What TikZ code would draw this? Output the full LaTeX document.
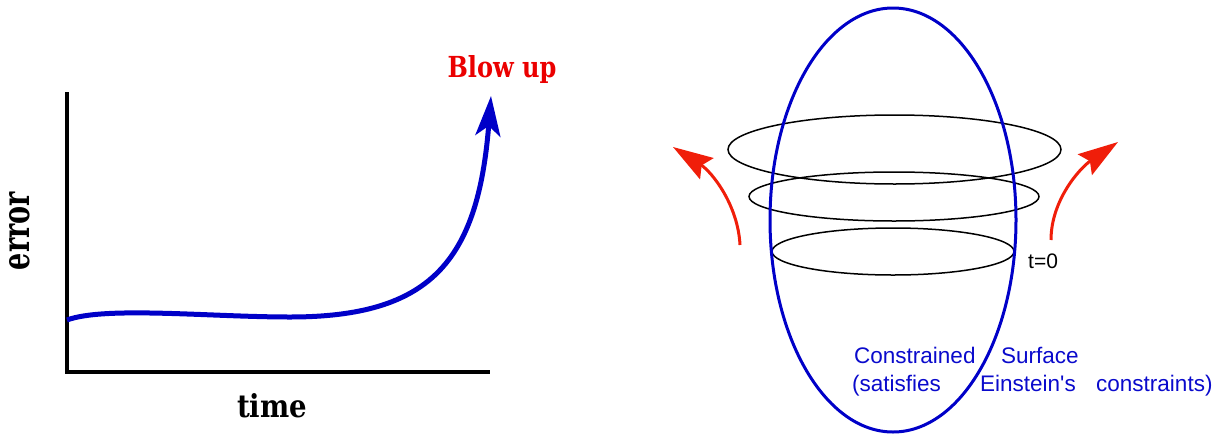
\documentclass[tikz,border=0pt]{standalone}
\usepackage{fontspec}
\usepackage{graphicx}
\setmainfont{DejaVu Serif}
\newfontfamily\labelsans{Liberation Sans}
\usetikzlibrary{arrows.meta}
\definecolor{curveblue}{RGB}{0,0,200}
\definecolor{textblue}{RGB}{10,10,204}
\definecolor{arrred}{RGB}{240,30,10}
\definecolor{blowred}{RGB}{235,0,0}
\begin{document}
\begin{tikzpicture}[x=1pt,y=-1pt,
  axisline/.style={line width=4pt},
  errcurve/.style={curveblue, line width=5pt, -{Stealth[length=40pt,width=25pt,inset=10pt]}},
  flowarrow/.style={arrred, line width=3pt, -{Stealth[length=40pt,width=25pt,inset=6pt]}},
  ring/.style={black, line width=1.5pt},
  surface/.style={curveblue, line width=3pt},
  serlabel/.style={anchor=base, inner sep=0pt, font=\bfseries},
  bluetext/.style={anchor=base west, inner sep=0pt, text=textblue, font=\labelsans\fontsize{22.5pt}{26pt}\selectfont}
]
\useasboundingbox (0,0) rectangle (1225,434);

% ---- left chart ----
\draw[axisline] (67,92) -- (67,372) -- (490,372);
\draw[errcurve] (67,320) .. controls (105,306) and (210,317) .. (290,317)
  .. controls (430,317) and (478,262) .. (491,96);
\node[serlabel, text=blowred] (blow) at (502,77) {\resizebox{109pt}{22pt}{Blow up}};
\node[serlabel] (time) at (272,417) {\resizebox{70pt}{24pt}{time}};
\node[serlabel, rotate=90] (err) at (30,231) {\resizebox{78pt}{20pt}{error}};

% ---- right picture ----
\draw[ring] (894.5,149.5) ellipse [x radius=166.5pt, y radius=34.5pt];
\draw[ring] (894,196.5) ellipse [x radius=145pt, y radius=24.5pt];
\draw[ring] (893,251.5) ellipse [x radius=121pt, y radius=23.5pt];
\draw[surface] (893,220) ellipse [x radius=123pt, y radius=212pt];

\draw[flowarrow] (740,245) .. controls (738,205) and (712,172) .. (673,147);
\draw[flowarrow] (1051,240) .. controls (1051,200) and (1080,168) .. (1118,142);

\node[anchor=base west, inner sep=0pt, font=\labelsans\fontsize{21pt}{24pt}\selectfont] (t0) at (1028,268) {t=0};

\node[bluetext] (w1) at (854,363) {Constrained};
\node[bluetext] (w2) at (1001,363) {Surface};
\node[bluetext] (w3) at (852,391) {(satisfies};
\node[bluetext] (w4) at (980,391) {Einstein's};
\node[bluetext] (w5) at (1096,391) {constraints)};
\end{tikzpicture}
\end{document}
